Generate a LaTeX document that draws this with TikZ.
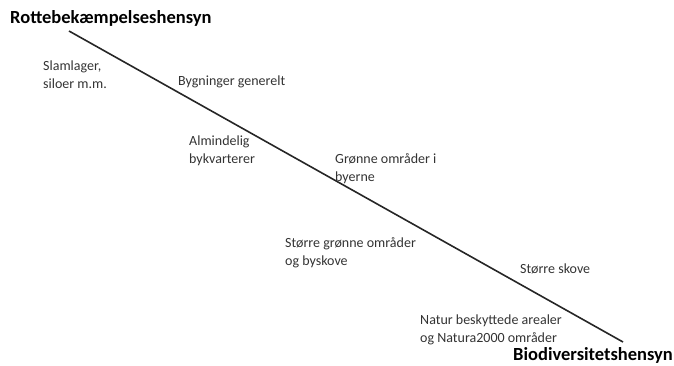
\documentclass[tikz,border=0pt]{standalone}
\usepackage{fontspec}
\setmainfont{Carlito}
\usetikzlibrary{positioning}

\begin{document}
\begin{tikzpicture}[
        x=1pt, y=-1pt,
        akse/.style={font=\fontsize{18.5}{22}\selectfont\bfseries, inner sep=0pt},
        omraade/.style={anchor=north west, align=left, inner sep=0pt, text=black!80,
            font=\fontsize{14}{18}\selectfont},
        skala/.style={draw=black!85, line width=1.6pt}
    ]
        \useasboundingbox (0,0) rectangle (674,365);

        % Aksens endepunkter
        \node[akse, anchor=west] (rotte) at (10,18) {Rottebekæmpelseshensyn};
        \node[akse, anchor=west] (bio) at (513,355) {Biodiversitetshensyn};
        \coordinate (start) at (69,31);
        \coordinate (slut) at (623,342);

        % Skalaen
        \draw[skala] (start) -- (slut);

        % Områdetyper langs skalaen
        \node[omraade] (slam) at (43,61) {Slamlager,\\siloer m.m.};
        \node[omraade] (bygning) at (178,76) {Bygninger generelt};
        \node[omraade] (kvarter) at (189,136) {Almindelig\\bykvarterer};
        \node[omraade] (groen) at (335,153) {Grønne områder i\\byerne};
        \node[omraade] (byskov) at (285,237) {Større grønne områder\\og byskove};
        \node[omraade] (skov) at (520,264) {Større skove};
        \node[omraade] (natur) at (420,315) {Natur beskyttede arealer\\og Natura2000 områder};
\end{tikzpicture}
\end{document}
